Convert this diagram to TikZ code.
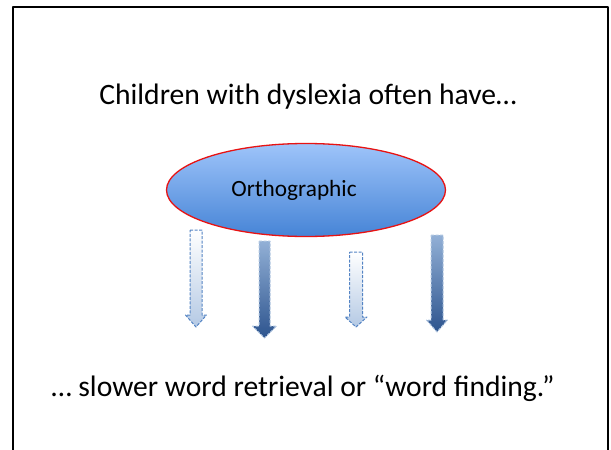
\documentclass[tikz,border=0pt]{standalone}
\usepackage{fontspec}
\setmainfont{Carlito}
\usetikzlibrary{shapes.geometric}
\definecolor{skyc}{RGB}{158,196,250}
\definecolor{deepc}{RGB}{70,132,214}
\definecolor{rimc}{RGB}{232,18,18}
\definecolor{edgec}{RGB}{84,132,196}
\definecolor{palec}{RGB}{180,201,228}
\definecolor{midc}{RGB}{146,176,214}
\definecolor{darkc}{RGB}{45,84,142}

\tikzset{
  paleshaft/.style={top color=white, bottom color=palec, draw=edgec, dash pattern=on 3pt off 1.5pt, line width=1pt},
  darkshaft/.style={top color=midc, bottom color=darkc, draw=midc!70!white, dash pattern=on 3pt off 1.5pt, line width=1pt}
}

\begin{document}
\begin{tikzpicture}[x=1pt, y=-1pt, line join=round]
  \useasboundingbox (0,0) rectangle (611,450);
  % slide frame, open at the bottom
  \draw[line width=2.4pt] (13,455) -- (13,7) -- (608,7) -- (608,455);

  \node[font=\fontsize{29.6}{34}\selectfont, anchor=base] (title) at (308,104)
    {Children with dyslexia often have…};

  \node[ellipse, draw=rimc, line width=1.3pt, top color=skyc, bottom color=deepc,
        minimum width=279pt, minimum height=93pt, inner sep=0pt,
        font=\fontsize{23.3}{27}\selectfont] (ortho) at (306,190)
    {Orthographic\kern24pt};

  % down arrows: centre x / top / head start / tip / half shaft / half head / style
  \foreach \x/\t/\h/\e/\w/\hw/\s in {196/230/315/327/6/10.5/paleshaft,
                                     264.5/241/326/338/5.5/12/darkshaft,
                                     356/252/317/327/6.5/11/paleshaft,
                                     437/235/320/332/6/10.5/darkshaft}{
    \path[\s] (\x-\w,\t) -- (\x+\w,\t) -- (\x+\w,\h) -- (\x+\hw,\h)
      -- (\x,\e) -- (\x-\hw,\h) -- (\x-\w,\h) -- cycle;
  }

  \node[font=\fontsize{29.6}{34}\selectfont, anchor=base] (finding) at (303,396)
    {… slower word retrieval or “word finding.”};
\end{tikzpicture}
\end{document}
